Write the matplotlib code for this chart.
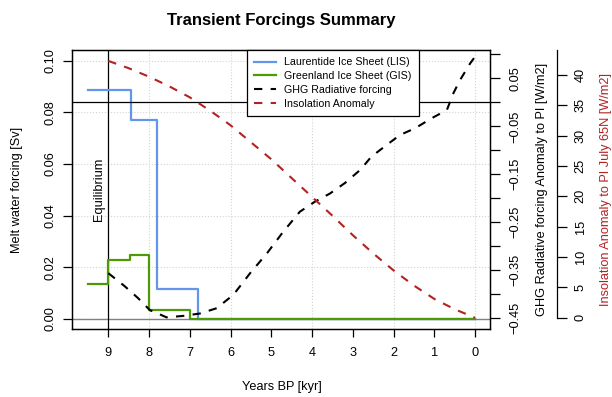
import numpy as np
import matplotlib
matplotlib.use('Agg')
import matplotlib.pyplot as plt
from matplotlib.lines import Line2D

plt.rcParams.update({
    'font.family': ['Liberation Sans', 'DejaVu Sans'],
    'font.size': 9.2,
    'axes.linewidth': 0.9,
    'xtick.direction': 'out',
    'ytick.direction': 'out',
})

# ---- data ----
lis_x = [9.5, 8.44, 7.8, 6.8, 0.0]
lis_sv = [0.0888, 0.0771, 0.0116, 0.0, 0.0]

gis_x = [9.5, 9.0, 8.48, 8.0, 7.0, 0.0]
gis_sv = [0.0136, 0.0228, 0.0247, 0.0036, 0.0, 0.0]

ghg_x = [9.0, 8.6, 8.27, 7.98, 7.57, 7.16, 6.75, 6.34, 5.93, 5.52, 5.11, 4.71,
         4.30, 3.93, 3.56, 3.19, 2.82, 2.54, 2.17, 1.84, 1.47, 1.06, 0.69,
         0.53, 0.37, 0.12, 0.0]
ghg_wm2 = [-0.356, -0.383, -0.408, -0.433, -0.448, -0.445, -0.440, -0.429,
           -0.401, -0.356, -0.315, -0.270, -0.228, -0.207, -0.190, -0.168,
           -0.141, -0.113, -0.089, -0.068, -0.054, -0.033, -0.016, 0.019,
           0.046, 0.081, 0.095]

ins_x = [9.0, 8.5, 8.0, 7.5, 7.0, 6.5, 6.0, 5.5, 5.0, 4.5, 4.0, 3.5, 3.0,
         2.5, 2.0, 1.5, 1.0, 0.5, 0.0]
ins_wm2 = [42.3, 41.1, 39.7, 38.1, 36.3, 34.1, 31.7, 28.9, 26.1, 23.0, 19.9,
           16.8, 13.6, 10.6, 7.8, 5.3, 3.1, 1.4, 0.0]

x_ticks = list(range(0, 10))
ghg_ticks = [-0.45, -0.40, -0.35, -0.30, -0.25, -0.20, -0.15, -0.10, -0.05,
             0.0, 0.05, 0.10]
ghg_labels = ['\u22120.45', '', '\u22120.35', '', '\u22120.25', '', '\u22120.15',
              '', '\u22120.05', '', '0.05', '']
ins_ticks = [0, 5, 10, 15, 20, 25, 30, 35, 40]

c_lis = '#6495ED'
c_gis = '#4E9A06'
c_ins = '#B22222'

W, H = 612, 397
fig = plt.figure(figsize=(W / 100, H / 100), dpi=100)
L, R, T, B = 72.3, 490, 50, 329
ax = fig.add_axes([L / W, 1 - B / H, (R - L) / W, (B - T) / H])

ax.set_xlim(9.884, -0.368)
ax.set_ylim(-0.00387, 0.10414)

# grid (major ticks only, like R's grid())
ax.set_xticks([0, 2, 4, 6, 8])
ax.set_xticks([1, 3, 5, 7, 9], minor=True)
ax.set_xticklabels(['0', '2', '4', '6', '8'])
ax.set_xticklabels(['1', '3', '5', '7', '9'], minor=True)
ax.set_yticks([0, 0.02, 0.04, 0.06, 0.08, 0.10])
ax.set_yticklabels(['0.00', '0.02', '0.04', '0.06', '0.08', '0.10'])
ax.grid(True, which='major', color='#d3d3d3', linestyle=':', linewidth=0.8)
ax.set_axisbelow(True)
ax.tick_params(axis='x', which='both', length=6, width=0.9, pad=7)
ax.tick_params(axis='y', length=6.5, width=0.9, pad=5, labelrotation=90)
for t in ax.get_yticklabels():
    t.set_va('center')

ax.axhline(0, color='#808080', linewidth=1.0, zorder=1)
ax.axvline(9, color='black', linewidth=0.9, zorder=1)

ax.plot(lis_x, lis_sv, drawstyle='steps-post', color=c_lis, lw=1.6, zorder=3)
ax.plot(gis_x, gis_sv, drawstyle='steps-post', color=c_gis, lw=1.6, zorder=4)

ax.text(9.22, 0.0503, 'Equilibrium', rotation=90, ha='center', va='center',
        fontsize=9.2)

# GHG axis
ax2 = ax.twinx()
ax2.set_ylim(-0.4723, 0.109)
ax2.set_yticks(ghg_ticks)
ax2.set_yticklabels(ghg_labels)
ax2.tick_params(axis='y', length=7, width=0.9, pad=7, labelrotation=90)
for t in ax2.get_yticklabels():
    t.set_va('center')
ax2.axhline(0, color='black', linewidth=0.9)
ax2.plot(ghg_x, ghg_wm2, color='black', lw=1.5, linestyle=(0, (4, 4)))

# Insolation axis
ax3 = ax.twinx()
ax3.set_ylim(-1.86, 44.1)
ax3.spines['right'].set_position(('outward', 66.7 * 72 / 100))
ax3.spines['right'].set_bounds(0, 44.1)
for s in ['top', 'left', 'bottom']:
    ax3.spines[s].set_visible(False)
ax3.set_yticks(ins_ticks)
ax3.set_yticklabels([str(v) for v in ins_ticks])
ax3.tick_params(axis='y', length=7, width=0.9, pad=6, labelrotation=90)
for t in ax3.get_yticklabels():
    t.set_va('center')
ax3.plot(ins_x, ins_wm2, color=c_ins, lw=1.5, linestyle=(0, (4, 4)))

# labels and title
fig.text(281 / W, 1 - 20 / H, 'Transient Forcings Summary', ha='center',
         va='center', fontsize=12, fontweight='bold')
fig.text(281.5 / W, 1 - 387 / H, 'Years BP [kyr]', ha='center', va='center')
fig.text(17 / W, 1 - 189.5 / H, 'Melt water forcing [Sv]', rotation=90,
         ha='center', va='center')
fig.text(541.5 / W, 1 - 189.5 / H, 'GHG Radiative forcing Anomaly to PI [W/m2]',
         rotation=90, ha='center', va='center')
fig.text(606 / W, 1 - 189.5 / H, 'Insolation Anomaly to PI July 65N [W/m2]',
         rotation=90, ha='center', va='center', color=c_ins)

handles = [
    Line2D([], [], color=c_lis, lw=1.6),
    Line2D([], [], color=c_gis, lw=1.6),
    Line2D([], [], color='black', lw=1.5, linestyle=(0, (4, 4))),
    Line2D([], [], color=c_ins, lw=1.5, linestyle=(0, (4, 4))),
]
labels = ['Laurentide Ice Sheet (LIS)', 'Greenland Ice Sheet (GIS)',
          'GHG Radiative forcing', 'Insolation Anomaly']
leg = ax3.legend(handles, labels, loc='upper left',
                 bbox_to_anchor=(247 / W, 1 - 50 / H),
                 bbox_transform=fig.transFigure, borderaxespad=0,
                 fontsize=7.7, frameon=True, fancybox=False, framealpha=1,
                 edgecolor='black', handlelength=2.0, handletextpad=0.8,
                 labelspacing=0.35, borderpad=0.7)
leg.get_frame().set_linewidth(0.9)

fig.savefig('out.png', dpi=100)
